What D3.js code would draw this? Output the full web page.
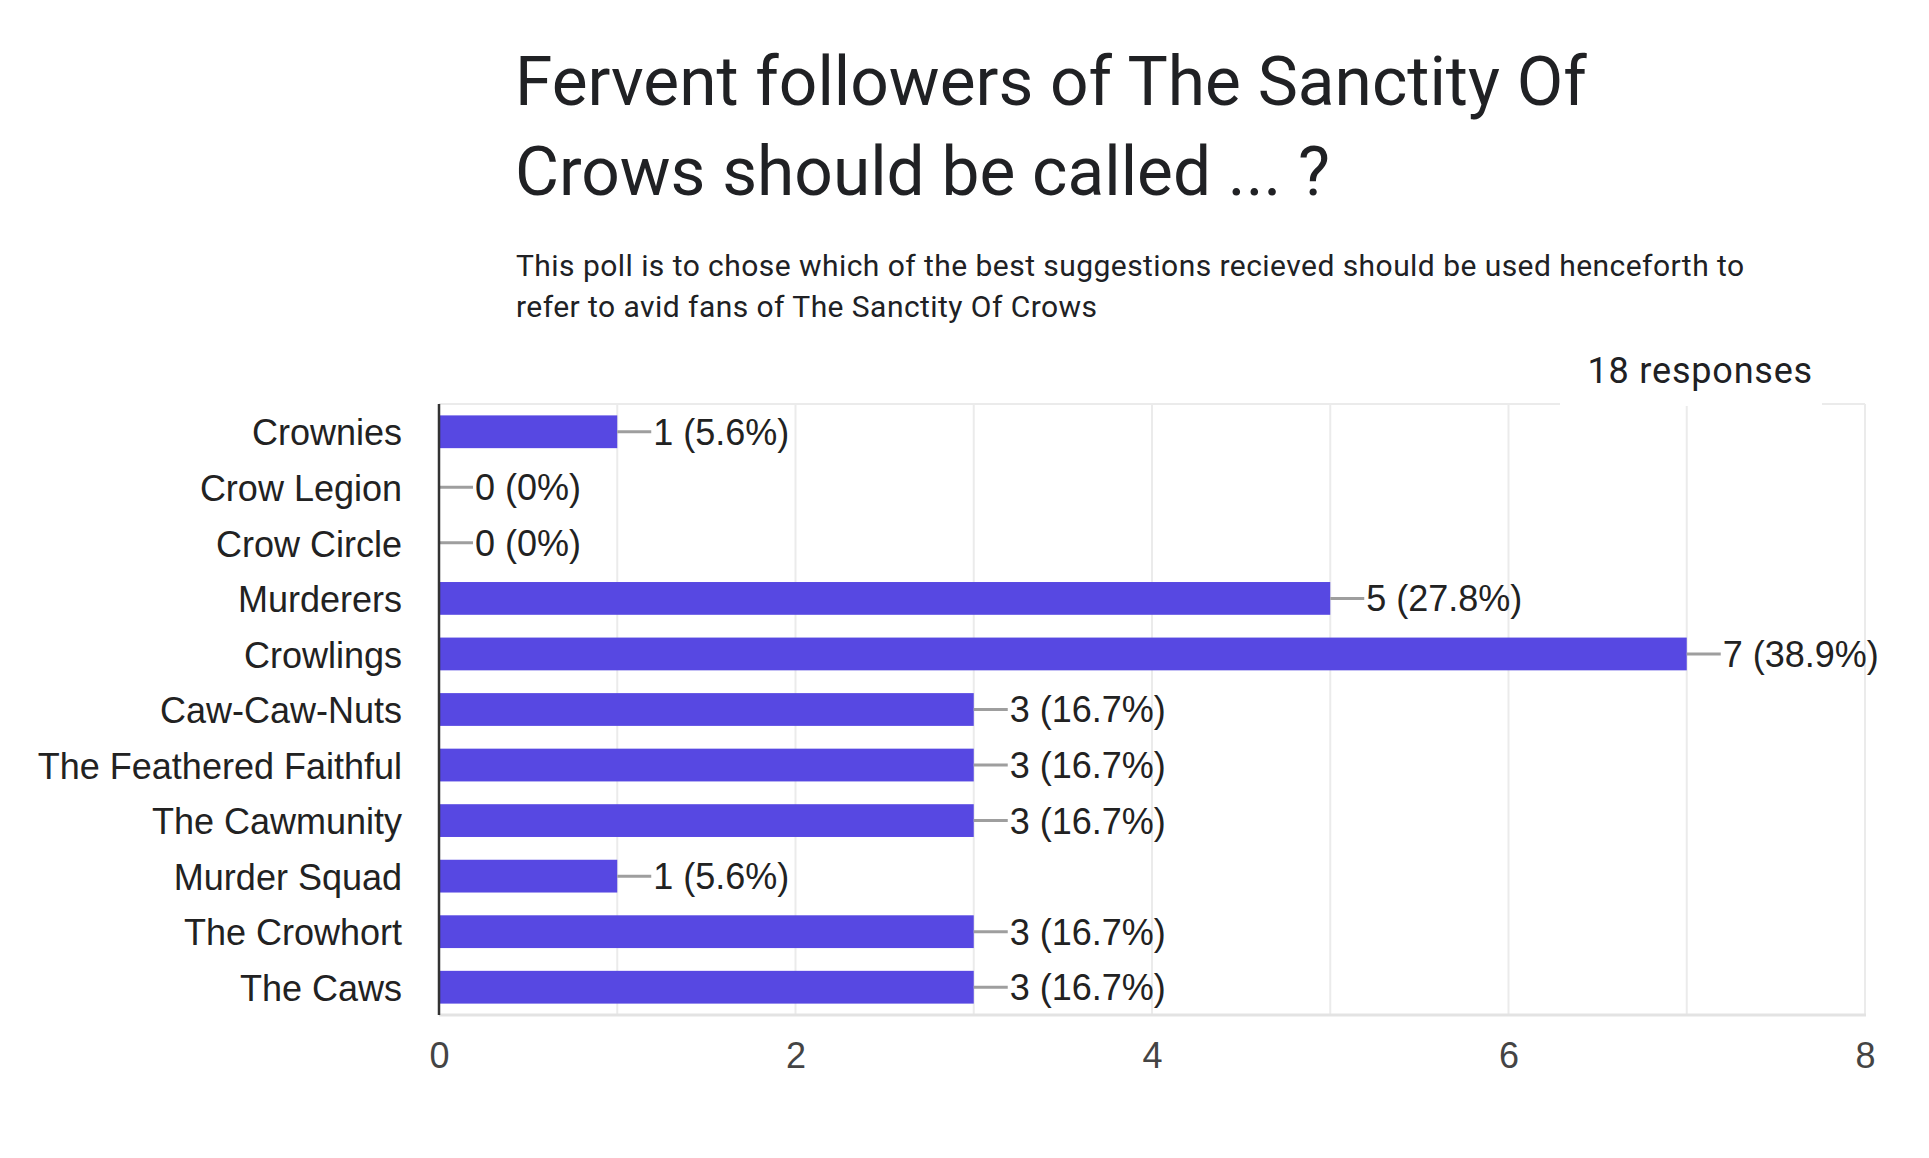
<!DOCTYPE html>
<html>
<head>
<meta charset="utf-8">
<script src="https://cdn.jsdelivr.net/npm/d3@7"></script>
<style>
  html, body { margin: 0; padding: 0; background: #fff; }
  svg { display: block; }
</style>
</head>
<body>
<svg id="chart" width="1929" height="1158"></svg>
<script>
const titleLines = ["Fervent followers of The Sanctity Of", "Crows should be called ... ?"];
const subtitleLines = ["This poll is to chose which of the best suggestions recieved should be used henceforth to",
                       "refer to avid fans of The Sanctity Of Crows"];
const responsesLabel = "18 responses";
const categories = ["Crownies", "Crow Legion", "Crow Circle", "Murderers", "Crowlings", "Caw-Caw-Nuts",
                    "The Feathered Faithful", "The Cawmunity", "Murder Squad", "The Crowhort", "The Caws"];
const counts = [1, 0, 0, 5, 7, 3, 3, 3, 1, 3, 3];
const percents = ["5.6%", "0%", "0%", "27.8%", "38.9%", "16.7%", "16.7%", "16.7%", "5.6%", "16.7%", "16.7%"];
const tickValues = [0, 2, 4, 6, 8];
const gridValues = [1, 2, 3, 4, 5, 6, 7, 8];

(function () {
const svg = d3.select("#chart");

svg.append("g").selectAll("text").data(titleLines).join("text")
  .attr("x", 515).attr("y", (d, i) => 105 + i * 90)
  .attr("font-family", "Roboto, 'Noto Sans', sans-serif")
  .attr("font-size", 67.6).attr("fill", "#202124")
  .text(d => d);

svg.append("g").selectAll("text").data(subtitleLines).join("text")
  .attr("x", 516).attr("y", (d, i) => 276 + i * 41)
  .attr("font-family", "Roboto, 'Noto Sans', sans-serif")
  .attr("font-size", 30).attr("letter-spacing", 0.45).attr("fill", "#202124")
  .text(d => d);

const pLeft = 439, pRight = 1865, pTop = 404, pBottom = 1015;
const x = d3.scaleLinear().domain([0, 8]).range([pLeft, pRight]);
const y = d3.scaleBand().domain(categories).range([pTop, pBottom]).paddingInner(0.41).paddingOuter(0.205);

const labelFont = "Arial, 'Liberation Sans', sans-serif";

svg.append("g").selectAll("line").data(gridValues).join("line")
  .attr("x1", d => x(d)).attr("x2", d => x(d))
  .attr("y1", pTop).attr("y2", pBottom)
  .attr("stroke", "#ebebeb").attr("stroke-width", 2);
svg.append("line").attr("x1", pLeft).attr("x2", pRight).attr("y1", pTop).attr("y2", pTop)
  .attr("stroke", "#ebebeb").attr("stroke-width", 2);
svg.append("line").attr("x1", pLeft).attr("x2", pRight + 1).attr("y1", pBottom).attr("y2", pBottom)
  .attr("stroke", "#e3e3e3").attr("stroke-width", 3);

svg.append("rect").attr("x", 1560).attr("y", 340).attr("width", 262).attr("height", 66).attr("fill", "#fff");
svg.append("text").attr("x", 1813).attr("y", 383).attr("text-anchor", "end")
  .attr("font-family", "Roboto, 'Noto Sans', sans-serif")
  .attr("font-size", 36).attr("letter-spacing", 0.8).attr("fill", "#202124")
  .text(responsesLabel);

const rows = categories.map((c, i) => ({ cat: c, v: counts[i], p: percents[i] }));
svg.append("g").selectAll("rect").data(rows).join("rect")
  .attr("x", x(0)).attr("y", d => y(d.cat))
  .attr("width", d => x(d.v) - x(0)).attr("height", y.bandwidth())
  .attr("fill", "#5748e2");

svg.append("g").selectAll("line").data(rows).join("line")
  .attr("x1", d => x(d.v)).attr("x2", d => x(d.v) + 34)
  .attr("y1", d => y(d.cat) + y.bandwidth() / 2).attr("y2", d => y(d.cat) + y.bandwidth() / 2)
  .attr("stroke", "#9e9e9e").attr("stroke-width", 3);

svg.append("g").selectAll("text").data(rows).join("text")
  .attr("x", d => x(d.v) + 36).attr("y", d => y(d.cat) + y.bandwidth() / 2)
  .attr("dy", "0.36em")
  .attr("font-family", labelFont).attr("font-size", 36).attr("fill", "#222")
  .text(d => `${d.v} (${d.p})`);

const yAxis = d3.axisLeft(y).tickSize(0).tickPadding(37);
const yg = svg.append("g").attr("transform", `translate(${pLeft},0)`).call(yAxis);
yg.select(".domain").remove();
yg.selectAll("text").attr("font-family", labelFont).attr("font-size", 36).attr("fill", "#222").attr("dy", "0.38em");

svg.append("line").attr("x1", x(0)).attr("x2", x(0)).attr("y1", pTop).attr("y2", pBottom)
  .attr("stroke", "#333").attr("stroke-width", 2.5);

const xAxis = d3.axisBottom(x).tickValues(tickValues).tickSize(0).tickPadding(0).tickFormat(d3.format("d"));
const xg = svg.append("g").attr("transform", `translate(0,${pBottom})`).call(xAxis);
xg.select(".domain").remove();
xg.selectAll("text").attr("font-family", labelFont).attr("font-size", 36).attr("fill", "#444")
  .attr("dy", null).attr("y", 53);
})();
</script>
</body>
</html>
